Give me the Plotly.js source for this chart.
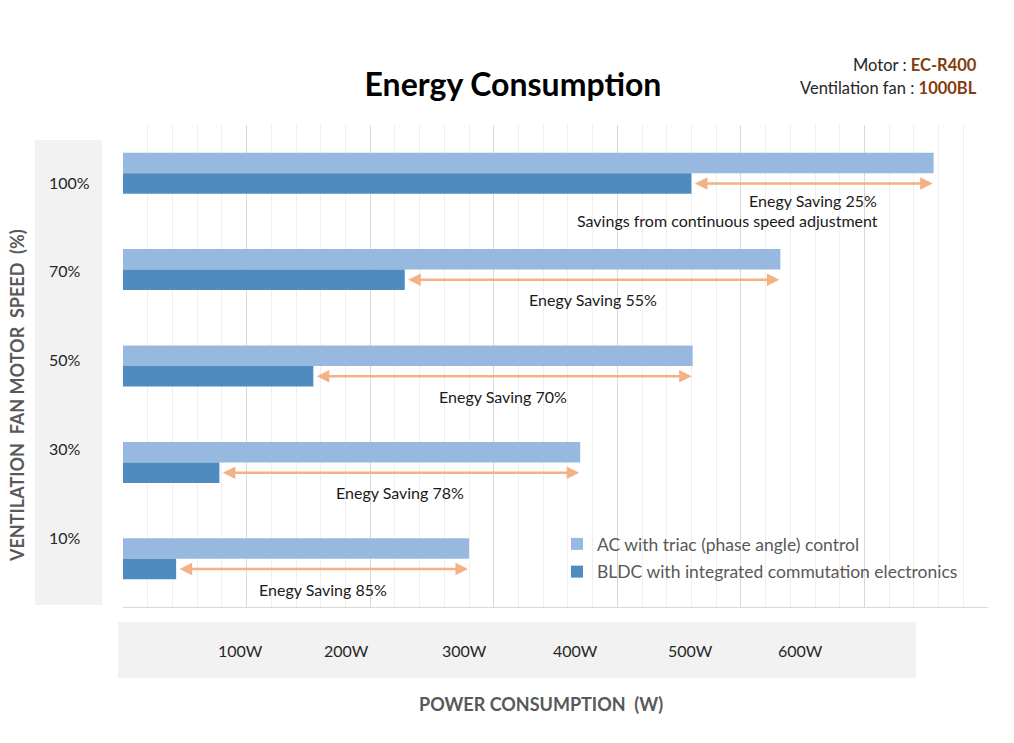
<!DOCTYPE html>
<html>
<head>
<meta charset="utf-8">
<script src="https://cdn.plot.ly/plotly-3.0.1.min.js"></script>
<style>html,body{margin:0;padding:0;background:#fff;}#chart{width:1014px;height:743px;}</style>
</head>
<body>
<div id="chart"></div>
<script>
// ---- data ----
const categories = ['100%', '70%', '50%', '30%', '10%'];
const acValues = [656, 532, 461, 370, 280];     // AC with triac (phase angle) control, W
const bldcValues = [460, 228, 154, 78, 43];     // BLDC with integrated commutation electronics, W
const savingLabels = ['Enegy Saving 25%', 'Enegy Saving 55%', 'Enegy Saving 70%', 'Enegy Saving 78%', 'Enegy Saving 85%'];
const tickLabels = ['100W', '200W', '300W', '400W', '500W', '600W'];
const seriesNames = ['AC with triac (phase angle) control', 'BLDC with integrated commutation electronics'];

// ---- layout helpers (pixel -> paper) ----
const W = 1014, H = 743;
const PL = 123, PR = 988, PT = 125, PB = 607;
const fx = px => (px - PL) / (PR - PL);
const fy = py => (PB - py) / (PB - PT);
const tickLabelPx = [240, 346, 464, 575, 690, 800];
const catLabelPy = [182, 270, 359, 448, 537];
const labelShift = [-17, -20, -20, -20, -20];
const font = 'Lato, "Open Sans", sans-serif';
const bargap = 0.575;
const bldcOffset = (1 - bargap) / 4;

const traces = [
  {type: 'bar', orientation: 'h', name: seriesNames[0], y: categories, x: acValues,
   marker: {color: '#97b9df'}, legendgroup: 'a', hoverinfo: 'x'},
  {type: 'bar', orientation: 'h', name: seriesNames[1], y: categories, x: bldcValues,
   marker: {color: '#4f8bbf'}, legendgroup: 'b', hoverinfo: 'x'}
];

const annotations = [];
categories.forEach((c, i) => {
  const yy = i + bldcOffset;
  annotations.push({xref: 'x', yref: 'y', axref: 'x', ayref: 'y',
    x: acValues[i], y: yy, ax: bldcValues[i], ay: yy, text: '', showarrow: true,
    arrowside: 'end+start', arrowhead: 2, startarrowhead: 2, arrowsize: 1, startarrowsize: 1,
    arrowwidth: 2.5, arrowcolor: '#f4b183', standoff: 1, startstandoff: 2});
  annotations.push({xref: 'x', yref: 'y', x: (acValues[i] + bldcValues[i]) / 2, y: yy,
    yshift: labelShift[i], text: savingLabels[i], showarrow: false,
    font: {family: font, size: 16, color: '#1a1a1a'}});
  annotations.push({xref: 'paper', yref: 'paper', x: fx(47), y: fy(catLabelPy[i]),
    xanchor: 'left', yanchor: 'middle', text: c, showarrow: false,
    font: {family: font, size: 16, color: '#262626'}});
});
annotations.push({xref: 'x', yref: 'y', x: (acValues[0] + bldcValues[0]) / 2 - 69, y: bldcOffset,
  yshift: -37, text: 'Savings from continuous speed adjustment', showarrow: false,
  font: {family: font, size: 16, color: '#1a1a1a'}});
tickLabels.forEach((t, i) => {
  annotations.push({xref: 'paper', yref: 'paper', x: fx(tickLabelPx[i]), y: fy(650),
    xanchor: 'center', yanchor: 'middle', text: t, showarrow: false,
    font: {family: font, size: 16, color: '#262626'}});
});
annotations.push({xref: 'paper', yref: 'paper', x: fx(979), y: fy(65), xanchor: 'right', yanchor: 'middle',
  showarrow: false, text: 'Motor : <b><span style="color:#843c0c">EC-R400</span></b>',
  font: {family: font, size: 16.5, color: '#262626'}});
annotations.push({xref: 'paper', yref: 'paper', x: fx(979), y: fy(88), xanchor: 'right', yanchor: 'middle',
  showarrow: false, text: 'Ventilation fan : <b><span style="color:#843c0c">1000BL</span></b>',
  font: {family: font, size: 16.5, color: '#262626'}});
annotations.push({xref: 'paper', yref: 'paper', x: fx(541), y: fy(704), xanchor: 'center', yanchor: 'middle',
  showarrow: false, text: '<b>POWER CONSUMPTION  (W)</b>',
  font: {family: font, size: 18, color: '#595959'}});
annotations.push({xref: 'paper', yref: 'paper', x: fx(17), y: fy(396), xanchor: 'center', yanchor: 'middle',
  textangle: -90, showarrow: false, text: '<b>VENTILATION  FAN MOTOR  SPEED  (%)</b>',
  font: {family: font, size: 18, color: '#595959'}});

const shapes = [
  {type: 'rect', xref: 'paper', yref: 'paper', x0: fx(118), x1: fx(916), y0: fy(622), y1: fy(678),
   fillcolor: '#f2f2f2', line: {width: 0}, layer: 'below'},
  {type: 'rect', xref: 'paper', yref: 'paper', x0: fx(35), x1: fx(102), y0: fy(140), y1: fy(605),
   fillcolor: '#f2f2f2', line: {width: 0}, layer: 'below'}
];

const layout = {
  width: W, height: H,
  margin: {l: PL, r: W - PR, t: PT, b: H - PB, pad: 0},
  paper_bgcolor: '#ffffff', plot_bgcolor: 'rgba(0,0,0,0)',
  title: {text: '<b>Energy Consumption</b>', xref: 'container', yref: 'container',
          x: 513 / W, y: 1 - 85 / H, xanchor: 'center', yanchor: 'middle',
          font: {family: font, size: 32, color: '#000000'}},
  barmode: 'group', bargap: bargap, bargroupgap: 0,
  xaxis: {range: [0, 700], dtick: 100, showgrid: true, gridcolor: '#d9d9d9', gridwidth: 1,
          minor: {dtick: 20, showgrid: true, gridcolor: '#efefef', gridwidth: 1},
          showticklabels: false, ticks: '', zeroline: false,
          showline: true, linecolor: '#d9d9d9', linewidth: 1, fixedrange: true},
  yaxis: {type: 'category', autorange: 'reversed', showticklabels: false, ticks: '',
          showgrid: false, zeroline: false, showline: false, fixedrange: true},
  showlegend: true,
  legend: {x: fx(557), y: fy(526), xanchor: 'left', yanchor: 'top', bgcolor: 'rgba(0,0,0,0)',
           traceorder: 'grouped', tracegroupgap: 2,
           font: {family: font, size: 17.5, color: '#595959'}},
  annotations: annotations,
  shapes: shapes,
  font: {family: font}
};

Plotly.newPlot('chart', traces, layout, {displayModeBar: false, staticPlot: true});
</script>
</body>
</html>
